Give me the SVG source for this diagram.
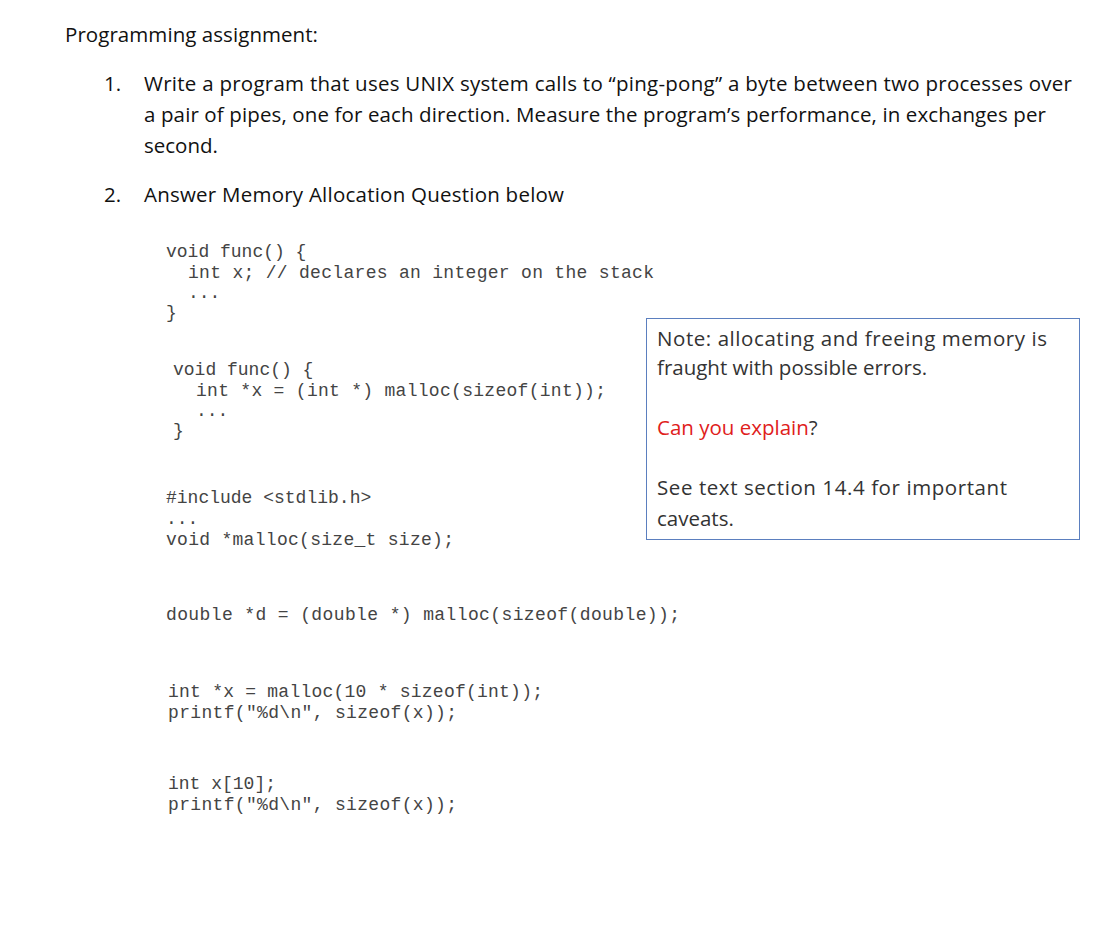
<svg xmlns="http://www.w3.org/2000/svg" width="1109" height="951" viewBox="0 0 1109 951">
<style>
.t{font-family:"Open Sans","Liberation Sans",sans-serif;font-size:20.5px;fill:#111}
.n{font-family:"Open Sans","Liberation Sans",sans-serif;font-size:20.5px;fill:#333}
.c{font-family:"Liberation Mono","DejaVu Sans Mono",monospace;font-size:18px;fill:#444}
</style>
<rect width="1109" height="951" fill="#fff"/>
<text class="t" x="65" y="42" textLength="253">Programming assignment:</text>
<text class="t" x="104" y="91">1.</text>
<text class="t" x="144" y="91" textLength="928">Write a program that uses UNIX system calls to “ping-pong” a byte between two processes  over</text>
<text class="t" x="144" y="122" textLength="902">a pair of pipes, one for each direction. Measure the program’s performance, in exchanges per</text>
<text class="t" x="144" y="153">second.</text>
<text class="t" x="104" y="202">2.</text>
<text class="t" x="144" y="202" textLength="420">Answer Memory Allocation Question below</text>
<g class="c">
<text x="166" y="257">void func() {</text>
<text x="188" y="278" textLength="466">int x; // declares an integer on the stack</text>
<text x="188" y="298">...</text>
<text x="166" y="318">}</text>
<text x="173" y="375">void func() {</text>
<text x="196" y="396" textLength="410">int *x = (int *) malloc(sizeof(int));</text>
<text x="196" y="416">...</text>
<text x="173" y="436">}</text>
<text x="166" y="503">#include &lt;stdlib.h&gt;</text>
<text x="166" y="524">...</text>
<text x="166" y="545" textLength="288">void *malloc(size_t size);</text>
<text x="166" y="620" textLength="514">double *d = (double *) malloc(sizeof(double));</text>
<text x="168" y="697" textLength="375">int *x = malloc(10 * sizeof(int));</text>
<text x="168" y="718" textLength="289">printf("%d\n", sizeof(x));</text>
<text x="168" y="789">int x[10];</text>
<text x="168" y="810" textLength="289">printf("%d\n", sizeof(x));</text>
</g>
<rect x="646.5" y="318.5" width="433" height="221" fill="#fff" stroke="#5b7fbf" stroke-width="1"/>
<text class="n" x="657" y="346" textLength="390">Note: allocating and freeing memory is</text>
<text class="n" x="657" y="375">fraught with possible errors.</text>
<text class="n" x="657" y="435"><tspan fill="#e0201b">Can you explain</tspan>?</text>
<text class="n" x="657" y="495" textLength="350">See text section 14.4 for important</text>
<text class="n" x="657" y="526">caveats.</text>
</svg>
